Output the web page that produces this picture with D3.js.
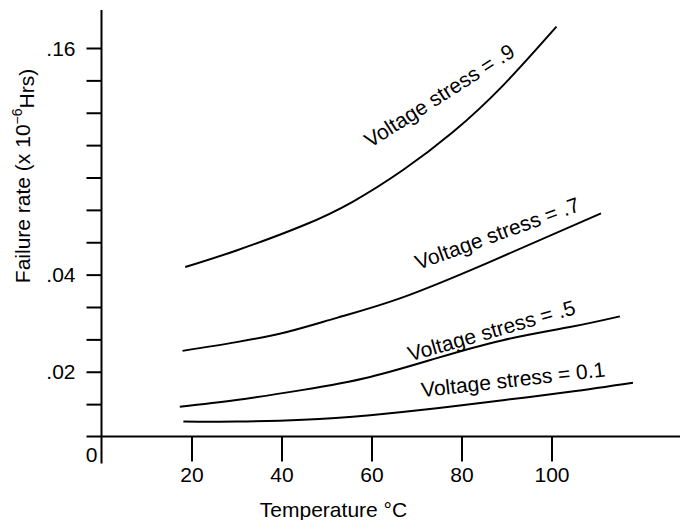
<!DOCTYPE html>
<html>
<head>
<meta charset="utf-8">
<script src="https://cdn.jsdelivr.net/npm/d3@7/dist/d3.min.js"></script>
<style>
  html, body { margin: 0; padding: 0; background: #fff; }
  svg { display: block; }
  text { font-family: "Liberation Sans", Arial, Helvetica, sans-serif; fill: #000; }
</style>
</head>
<body>
<svg id="chart" width="680" height="520"></svg>
<script>
// ---------- data ----------
const xTickValues = [20, 40, 60, 80, 100];
const yTickSteps = [1, 2, 3, 4, 5, 6, 7, 8, 9, 10, 11, 12];
const yLabelValues = [0.02, 0.04, 0.16];
const yLabelTexts = [".02", ".04", ".16"];

const temp_v09 = [18.6, 30.0, 44.8, 55.9, 67.0, 78.1, 89.2, 101.1];
const rate_v09 = [0.0440, 0.0528, 0.0660, 0.0787, 0.0954, 0.1155, 0.1401, 0.1713];

const temp_v07 = [18.0, 30.0, 41.2, 52.3, 66.3, 85.7, 111.0];
const rate_v07 = [0.0243, 0.0261, 0.0282, 0.0311, 0.0351, 0.0461, 0.0724];

const temp_v05 = [17.4, 30.0, 44.8, 59.7, 74.5, 89.2, 104.1, 115.2];
const rate_v05 = [0.0092, 0.0113, 0.0144, 0.0184, 0.0228, 0.0265, 0.0292, 0.0314];

const temp_v01 = [18.2, 30.0, 44.8, 59.7, 74.5, 89.2, 104.1, 118.1];
const rate_v01 = [0.00460, 0.00465, 0.0052, 0.0066, 0.0087, 0.0112, 0.0138, 0.0166];

const seriesNames = ["Voltage stress = .9", "Voltage stress = .7", "Voltage stress = .5", "Voltage stress = 0.1"];
// label anchors (data coordinates) and baseline angle
const labelTemps = [59.7, 70.4, 68.6, 71.2];
const labelRates = [0.1069, 0.0425, 0.0221, 0.0121];
const labelAngles = [-32.5, -20, -16, -6.5];

// ---------- scales ----------
const svg = d3.select("#chart");
const x = d3.scaleLinear().domain([0, 100]).range([101.5, 551.5]);
// the value axis is non-uniform: value -> tick step
const step = d3.scaleLinear().domain([0, 0.02, 0.04, 0.16]).range([0, 2, 5, 12]);
const yPix = d3.scaleLinear().domain([0, 12]).range([436.5, 48]);
const y = v => yPix(step(v));

const FS = 21;

// ---------- axes ----------
const axisColor = "#000";
svg.append("line")
  .attr("x1", x(0)).attr("x2", x(0))
  .attr("y1", 10).attr("y2", yPix(0) + 27)
  .attr("stroke", axisColor).attr("stroke-width", 2);
svg.append("line")
  .attr("x1", x(0) - 15).attr("x2", 680)
  .attr("y1", yPix(0)).attr("y2", yPix(0))
  .attr("stroke", axisColor).attr("stroke-width", 2);

const yAxis = d3.axisLeft(yPix).tickValues(yTickSteps).tickSize(15).tickFormat("");
const gy = svg.append("g").attr("transform", `translate(${x(0)},0)`).call(yAxis);
gy.select(".domain").remove();
gy.selectAll(".tick line").attr("stroke", axisColor).attr("stroke-width", 2);

svg.selectAll("text.ylab").data(yLabelValues).enter().append("text")
  .attr("class", "ylab")
  .attr("x", x(0) - 26)
  .attr("y", d => y(d))
  .attr("dy", "0.36em")
  .attr("text-anchor", "end")
  .style("font-size", FS + "px")
  .text((d, i) => yLabelTexts[i]);

svg.append("text")
  .attr("x", x(0) - 10).attr("y", yPix(0) + 25)
  .attr("text-anchor", "middle")
  .style("font-size", FS + "px")
  .text("0");

const xAxis = d3.axisBottom(x).tickValues(xTickValues).tickSize(25).tickPadding(6);
const gx = svg.append("g").attr("transform", `translate(0,${yPix(0)})`).call(xAxis);
gx.select(".domain").remove();
gx.selectAll(".tick line").attr("stroke", axisColor).attr("stroke-width", 2);
gx.selectAll(".tick text")
  .style("font-size", FS + "px")
  .style("font-family", '"Liberation Sans", Arial, sans-serif')
  .attr("fill", "#000");

svg.append("text")
  .attr("x", 333.5).attr("y", 517)
  .attr("text-anchor", "middle")
  .style("font-size", FS + "px")
  .text("Temperature °C");

const yt = svg.append("text")
  .attr("transform", "translate(30,176) rotate(-90)")
  .attr("text-anchor", "middle")
  .style("font-size", FS + "px");
yt.append("tspan").text("Failure rate (x 10");
yt.append("tspan").attr("dy", "-0.55em").style("font-size", "14px").text("\u22126");
yt.append("tspan").attr("dy", "0.55em").text("Hrs)");

// ---------- curves ----------
const series = [
  temp_v09.map((t, i) => ({ t, v: rate_v09[i] })),
  temp_v07.map((t, i) => ({ t, v: rate_v07[i] })),
  temp_v05.map((t, i) => ({ t, v: rate_v05[i] })),
  temp_v01.map((t, i) => ({ t, v: rate_v01[i] }))
];
const line = d3.line().x(d => x(d.t)).y(d => y(d.v)).curve(d3.curveNatural);
svg.selectAll("path.curve").data(series).enter().append("path")
  .attr("class", "curve")
  .attr("d", line)
  .attr("fill", "none")
  .attr("stroke", "#000")
  .attr("stroke-width", 2);

svg.selectAll("text.clab").data(seriesNames).enter().append("text")
  .attr("class", "clab")
  .attr("transform", (d, i) => `translate(${x(labelTemps[i])},${y(labelRates[i])}) rotate(${labelAngles[i]})`)
  .style("font-size", FS + "px")
  .text(d => d);
</script>
</body>
</html>
